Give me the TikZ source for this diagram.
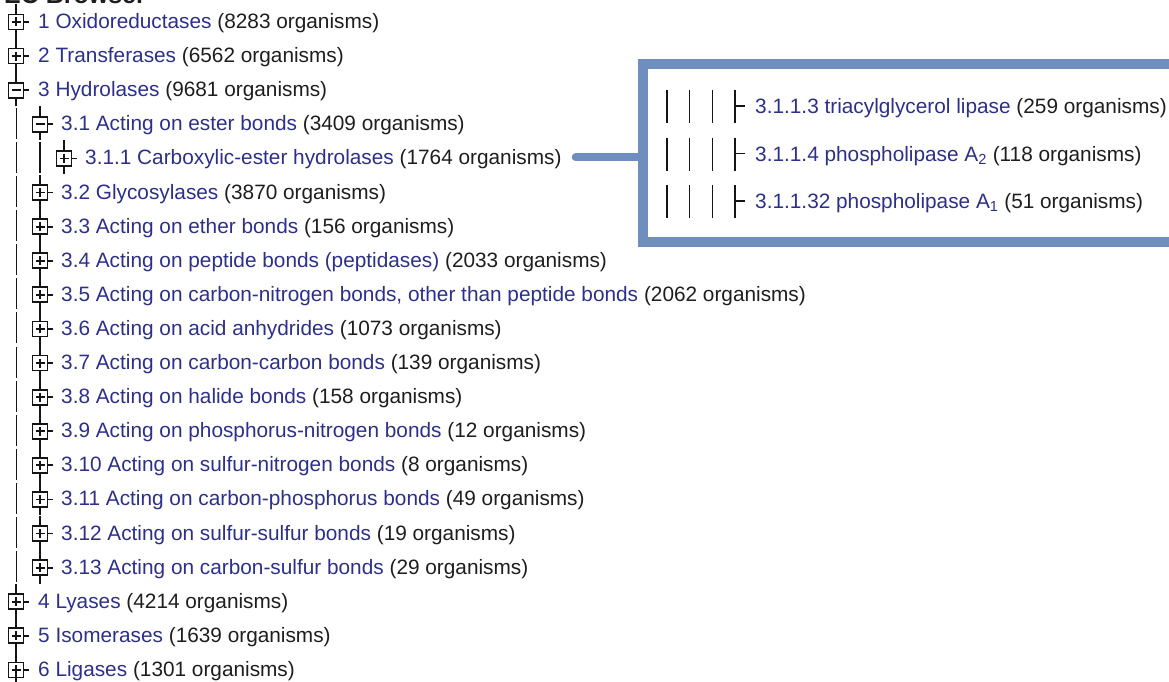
\documentclass[tikz,border=0pt]{standalone}
\usepackage{fontspec}
\setmainfont{Liberation Sans}
\definecolor{lnk}{RGB}{45,48,138}
\definecolor{cnt}{RGB}{30,30,30}
\definecolor{treeblk}{RGB}{20,20,20}
\definecolor{frameblue}{RGB}{110,143,190}
\newcommand\lab[2]{\textcolor{lnk}{#1} \textcolor{cnt}{(#2 organisms)}}
% tree box: x, y, 1 = plus / 0 = minus
\newcommand\tbox[3]{%
  \draw[ln] (#1-7.5,#2-7.5) rectangle (#1+7.5,#2+7.5);
  \draw[ln] (#1-4.5,#2) -- (#1+4.5,#2);
  \ifnum#3=1 \draw[ln] (#1,#2-4.5) -- (#1,#2+4.5);\fi
  \draw[ln] (#1,#2-18) -- (#1,#2-7.5) (#1,#2+7.5) -- (#1,#2+16) (#1+7.5,#2) -- (#1+12.5,#2);
}
\begin{document}
\begin{tikzpicture}[x=1pt,y=-1pt]
\tikzset{
  txt/.style={anchor=base west, inner sep=0pt, font=\fontsize{20.8}{22}\selectfont},
  ln/.style={line width=1.8pt, draw=treeblk},
  conn/.style={line width=8pt, draw=frameblue, line cap=round},
  framebox/.style={line width=10pt, draw=frameblue},
}
\clip (0,0) rectangle (1169,682);
\fill[white] (0,0) rectangle (1169,682);

% cut-off heading
\node[anchor=base west, inner sep=0pt, font=\fontsize{25}{26}\selectfont\bfseries, text=cnt] (head) at (4,3.5) {EC Browser};

% level-1 boxes
\tbox{16}{22}{1}
\tbox{16}{56.1}{1}
\tbox{16}{90.2}{0}
\tbox{16}{601.7}{1}
\tbox{16}{635.8}{1}
\tbox{16}{669.9}{1}
\draw[ln] (16,670) -- (16,690);
% level-1 guide line through Hydrolases children
\foreach \yy in {123.3,157.4,191.5,225.6,259.7,293.8,327.9,362,396.1,430.2,464.3,498.4,532.5,566.6}
  \draw[ln] (16.5,\yy-15.5) -- (16.5,\yy+15.5);
% level-2 boxes
\tbox{40}{124.3}{0}
\draw[ln] (40,157.4-15.5) -- (40,157.4+15.5);
\foreach \yy in {191.5,225.6,259.7,293.8,327.9,362,396.1,430.2,464.3,498.4,532.5,566.6}
  {\tbox{40}{\yy+1}{1}}
% level-3 box
\tbox{64}{158.4}{1}

% texts
\node[txt] (n1)  at (38,21+7.5)    {\lab{1 Oxidoreductases}{8283}};
\node[txt] (n2)  at (38,55.1+7.5)  {\lab{2 Transferases}{6562}};
\node[txt] (n3)  at (38,89.2+7.5)  {\lab{3 Hydrolases}{9681}};
\node[txt] (n31) at (61,123.3+7.5) {\lab{3.1 Acting on ester bonds}{3409}};
\node[txt] (n311) at (85,157.4+7.5) {\lab{3.1.1 Carboxylic-ester hydrolases}{1764}};
\node[txt] (n32) at (61,191.5+7.5) {\lab{3.2 Glycosylases}{3870}};
\node[txt] (n33) at (61,225.6+7.5) {\lab{3.3 Acting on ether bonds}{156}};
\node[txt] (n34) at (61,259.7+7.5) {\lab{3.4 Acting on peptide bonds (peptidases)}{2033}};
\node[txt] (n35) at (61,293.8+7.5) {\lab{3.5 Acting on carbon-nitrogen bonds, other than peptide bonds}{2062}};
\node[txt] (n36) at (61,327.9+7.5) {\lab{3.6 Acting on acid anhydrides}{1073}};
\node[txt] (n37) at (61,362+7.5)   {\lab{3.7 Acting on carbon-carbon bonds}{139}};
\node[txt] (n38) at (61,396.1+7.5) {\lab{3.8 Acting on halide bonds}{158}};
\node[txt] (n39) at (61,430.2+7.5) {\lab{3.9 Acting on phosphorus-nitrogen bonds}{12}};
\node[txt] (n310) at (61,464.3+7.5) {\lab{3.10 Acting on sulfur-nitrogen bonds}{8}};
\node[txt] (n311b) at (61,498.4+7.5) {\lab{3.11 Acting on carbon-phosphorus bonds}{49}};
\node[txt] (n312) at (61,532.5+7.5) {\lab{3.12 Acting on sulfur-sulfur bonds}{19}};
\node[txt] (n313) at (61,566.6+7.5) {\lab{3.13 Acting on carbon-sulfur bonds}{29}};
\node[txt] (n4)  at (38,600.7+7.5) {\lab{4 Lyases}{4214}};
\node[txt] (n5)  at (38,634.8+7.5) {\lab{5 Isomerases}{1639}};
\node[txt] (n6)  at (38,668.9+7.5) {\lab{6 Ligases}{1301}};

% inset frame
\draw[framebox] (642.5,64.3) rectangle (1220,241.7);
\coordinate (fl) at (642.5,157.4);
\foreach \yy in {106,153.5,201}{
  \draw[ln] (667,\yy-16) -- (667,\yy+17);
  \draw[ln] (689.5,\yy-16) -- (689.5,\yy+17);
  \draw[ln] (712.5,\yy-16) -- (712.5,\yy+17);
  \draw[ln] (735,\yy-16) -- (735,\yy+17) (735,\yy) -- (745,\yy);
}
\node[txt] (e3)  at (755,106+7.5)   {\lab{3.1.1.3 triacylglycerol lipase}{259}};
\node[txt] (e4)  at (755,153.5+7.5) {\lab{3.1.1.4 phospholipase A\textsubscript{2}}{118}};
\node[txt] (e32) at (755,201+7.5)   {\lab{3.1.1.32 phospholipase A\textsubscript{1}}{51}};

% connector
\coordinate (cs) at ([xshift=14pt]n311.east |- fl);
\draw[conn] (cs) -- (fl);
\end{tikzpicture}
\end{document}
